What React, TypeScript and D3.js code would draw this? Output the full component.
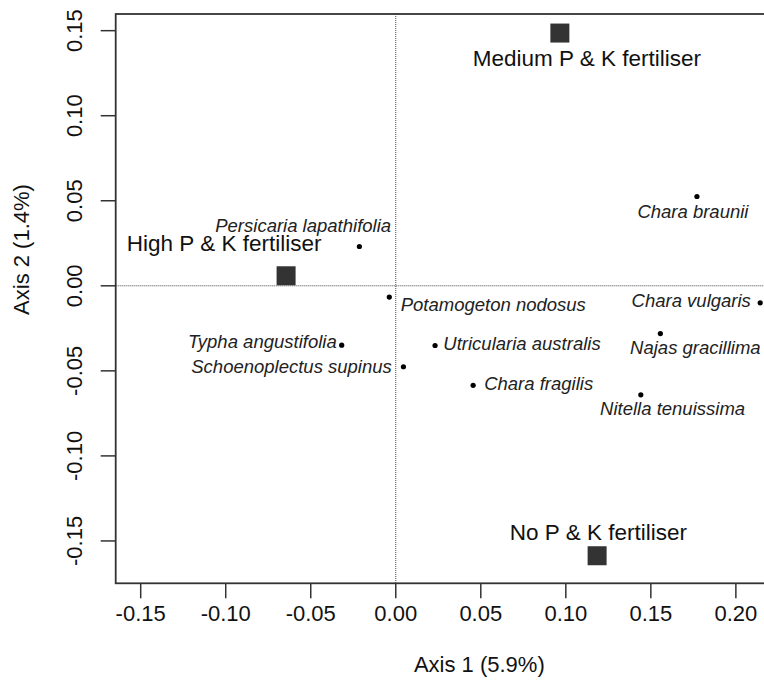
import React from 'react';
import * as d3 from 'd3';

// ordination scores
const species = [
  'Persicaria lapathifolia',
  'Potamogeton nodosus',
  'Typha angustifolia',
  'Schoenoplectus supinus',
  'Utricularia australis',
  'Chara fragilis',
  'Nitella tenuissima',
  'Najas gracillima',
  'Chara vulgaris',
  'Chara braunii',
];
const speciesX = [-0.0214, -0.0038, -0.0318, 0.0045, 0.0231, 0.0455, 0.1441, 0.1556, 0.2143, 0.1771];
const speciesY = [0.0231, -0.0066, -0.0349, -0.0476, -0.0351, -0.0585, -0.0641, -0.0281, -0.01, 0.0525];

const treatments = ['High P & K fertiliser', 'Medium P & K fertiliser', 'No P & K fertiliser'];
const treatmentX = [-0.0645, 0.0965, 0.1184];
const treatmentY = [0.0059, 0.1486, -0.1587];

const xTicks = [-0.15, -0.1, -0.05, 0, 0.05, 0.1, 0.15, 0.2];
const yTicks = [-0.15, -0.1, -0.05, 0, 0.05, 0.1, 0.15];

const xTitle = 'Axis 1 (5.9%)';
const yTitle = 'Axis 2 (1.4%)';

// label placement relative to each mark (anchor, dx, dy in px)
const speciesLabelPos: [string, number, number][] = [
  ['end', 31.7, -14.5],
  ['start', 11.4, 14.4],
  ['end', -5, 3],
  ['end', -11.6, 6.4],
  ['start', 8.3, 4.3],
  ['start', 11, 4.5],
  ['middle', 31.8, 20],
  ['middle', 35, 20.5],
  ['end', -9.3, 3.7],
  ['middle', -4, 21.6],
];
const treatmentLabelPos: [string, number, number][] = [
  ['middle', -62, -24.5],
  ['middle', 27, 33.4],
  ['middle', 1.3, -15.8],
];

const W = 764;
const H = 684;
const FONT = '"Liberation Sans", Arial, Helvetica, sans-serif';
const INK = '#333';

export default function App() {
  // plot region: right edge runs past the picture (cropped)
  const left = 115.7, right = 843, top = 14, bottom = 583.3;

  const x = d3.scaleLinear().domain([-0.1647, 0.263]).range([left, right]);
  const y = d3.scaleLinear().domain([-0.1749, 0.1598]).range([bottom, top]);

  // plain hyphen for negatives, as in the original R plot
  const fmt = (v: number) => d3.format('.2f')(v).replace('\u2212', '-');
  const tickLen = 15;
  const sq = 19;

  return (
    <div style={{ position: 'absolute', left: 0, top: 0 }}>
      <svg width={W} height={H} style={{ display: 'block', background: '#fff' }} fontFamily={FONT}>
        {/* zero reference lines */}
        <line x1={x(0)} x2={x(0)} y1={top} y2={bottom} stroke="#444" strokeWidth={1} strokeDasharray="1 1" />
        <line x1={left} x2={right} y1={y(0)} y2={y(0)} stroke="#444" strokeWidth={1} strokeDasharray="1 1" />

        {/* frame */}
        <rect x={left} y={top} width={right - left} height={bottom - top} fill="none" stroke={INK} strokeWidth={1.8} />

        {/* x axis */}
        {xTicks.map((t) => (
          <g key={'x' + t}>
            <line x1={x(t)} x2={x(t)} y1={bottom} y2={bottom + tickLen} stroke={INK} strokeWidth={1.5} />
            <text x={x(t)} y={621} textAnchor="middle" fontSize={22} fill="#111">
              {fmt(t)}
            </text>
          </g>
        ))}
        <text x={(left + right) / 2} y={671.7} textAnchor="middle" fontSize={22} fill="#111">
          {xTitle}
        </text>

        {/* y axis */}
        {yTicks.map((t) => (
          <g key={'y' + t}>
            <line x1={left - tickLen} x2={left} y1={y(t)} y2={y(t)} stroke={INK} strokeWidth={1.5} />
            <text transform={`translate(81.7,${y(t)}) rotate(-90)`} textAnchor="middle" fontSize={22} fill="#111">
              {fmt(t)}
            </text>
          </g>
        ))}
        <text transform="translate(29,249.5) rotate(-90)" textAnchor="middle" fontSize={22} fill="#111">
          {yTitle}
        </text>

        {/* species */}
        {species.map((s, i) => {
          const px = x(speciesX[i]);
          const py = y(speciesY[i]);
          const [anchor, dx, dy] = speciesLabelPos[i];
          return (
            <g key={s}>
              <circle cx={px} cy={py} r={2.6} fill="#000" />
              <text
                x={px + dx}
                y={py + dy}
                textAnchor={anchor as any}
                fontSize={18.5}
                fontStyle="italic"
                fill="#222"
              >
                {s}
              </text>
            </g>
          );
        })}

        {/* treatments */}
        {treatments.map((t, i) => {
          const px = x(treatmentX[i]);
          const py = y(treatmentY[i]);
          const [anchor, dx, dy] = treatmentLabelPos[i];
          return (
            <g key={t}>
              <rect x={px - sq / 2} y={py - sq / 2} width={sq} height={sq} fill={INK} />
              <text x={px + dx} y={py + dy} textAnchor={anchor as any} fontSize={22.5} fill="#111">
                {t}
              </text>
            </g>
          );
        })}
      </svg>
    </div>
  );
}
